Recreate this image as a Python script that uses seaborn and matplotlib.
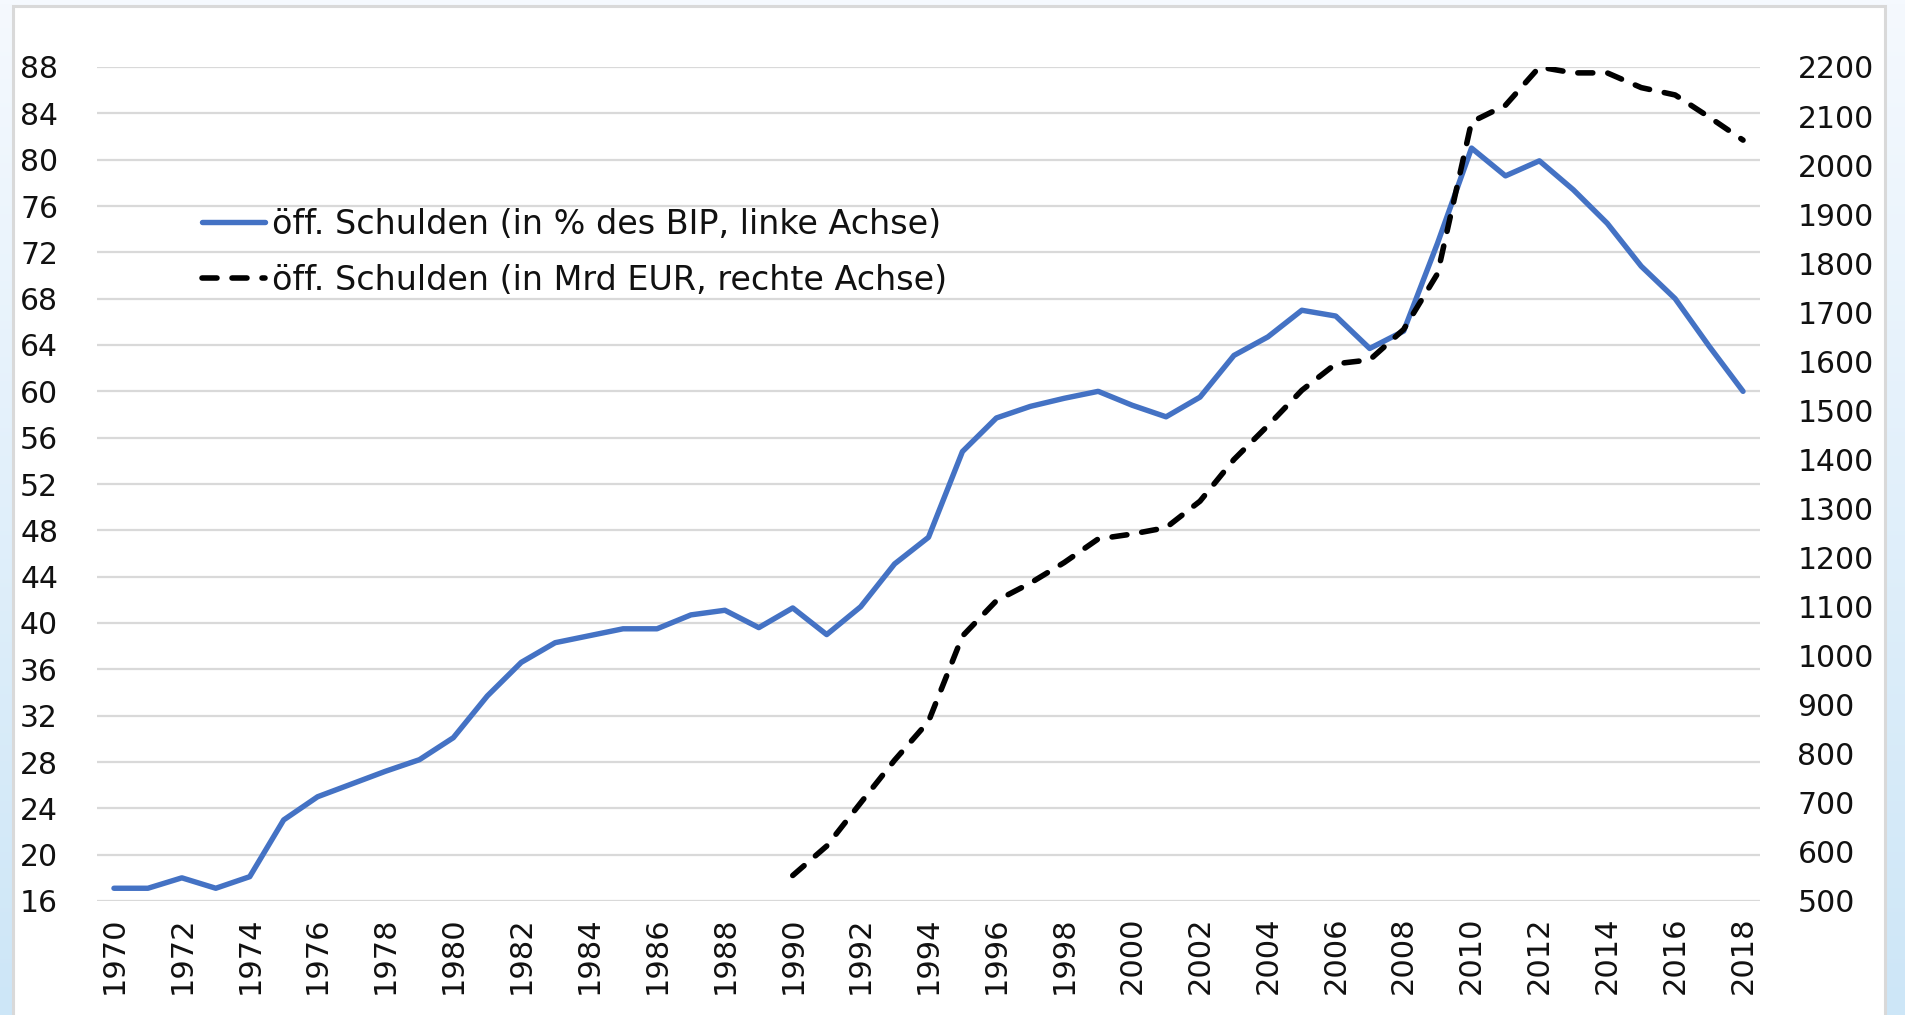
import numpy as np
import pandas as pd
import matplotlib
matplotlib.use("Agg")
import matplotlib.pyplot as plt
from matplotlib.patches import Rectangle
from matplotlib.colors import LinearSegmentedColormap
import seaborn as sns

# ---- data ----
years_pct = list(range(1970, 2019))
debt_pct = [17.1, 17.1, 18.0, 17.1, 18.1, 23.0, 25.0, 26.1, 27.2, 28.2,
            30.1, 33.7, 36.6, 38.3, 38.9, 39.5, 39.5, 40.7, 41.1, 39.6,
            41.3, 39.0, 41.4, 45.1, 47.4, 54.8, 57.7, 58.7, 59.4, 60.0,
            58.8, 57.8, 59.5, 63.1, 64.7, 67.0, 66.5, 63.7, 65.2, 72.8,
            81.0, 78.6, 79.9, 77.4, 74.5, 70.8, 68.0, 63.9, 60.0]
years_eur = list(range(1990, 2019))
debt_eur = [552, 612, 700, 787, 866, 1040, 1112, 1148, 1190, 1238,
            1248, 1261, 1315, 1400, 1469, 1541, 1595, 1603, 1665, 1779,
            2088, 2122, 2200, 2188, 2188, 2158, 2143, 2098, 2051]
label_pct = "öff. Schulden (in % des BIP, linke Achse)"
label_eur = "öff. Schulden (in Mrd EUR, rechte Achse)"
left_ticks = list(range(16, 89, 4))
right_ticks = list(range(500, 2201, 100))
x_ticks = list(range(1970, 2019, 2))

df_pct = pd.DataFrame({"Jahr": years_pct, "Wert": debt_pct})
df_eur = pd.DataFrame({"Jahr": years_eur, "Wert": debt_eur})

sns.set_style("white")
plt.rcParams["font.family"] = ["DejaVu Sans"]

W, H = 1906, 1015
fig = plt.figure(figsize=(W / 100, H / 100), dpi=100)

# background gradient + white panel
bg = fig.add_axes([0, 0, 1, 1])
cmap = LinearSegmentedColormap.from_list("bg", ["#f5f9fe", "#cde6f7"])
bg.imshow(np.linspace(0, 1, 256).reshape(-1, 1), aspect="auto", cmap=cmap,
          extent=[0, 1, 0, 1], origin="upper")
bg.add_patch(Rectangle((13 / W, -0.01), (1885 - 13) / W, 1.01 - 6 / H,
                       transform=bg.transAxes, facecolor="white",
                       edgecolor="#d9d9d9", linewidth=2.2, zorder=5))
bg.set_xlim(0, 1)
bg.set_ylim(0, 1)
bg.set_axis_off()

ax = fig.add_axes([97 / W, 1 - 901 / H, (1760 - 97) / W, (901 - 67) / H])
ax.set_facecolor("none")
ax2 = ax.twinx()

sns.lineplot(data=df_pct, x="Jahr", y="Wert", ax=ax, color="#4472C4",
             linewidth=3.9, label=label_pct, legend=False)
sns.lineplot(data=df_eur, x="Jahr", y="Wert", ax=ax2, color="black",
             linewidth=4.0, label=label_eur, legend=False,
             linestyle=(0, (2.7, 2.7)))
for ln in ax2.get_lines():
    ln.set_dash_capstyle("round")
for ln in ax.get_lines():
    ln.set_solid_capstyle("round")
    ln.set_solid_joinstyle("round")

ax.set_xlim(1969.5, 2018.5)
ax.set_ylim(16, 88)
ax2.set_ylim(500, 2200)
ax.set_yticks(left_ticks)
ax.set_yticklabels([str(v) for v in left_ticks])
ax2.set_yticks(right_ticks)
ax2.set_yticklabels([str(v) for v in right_ticks])
ax.set_xticks(x_ticks)
ax.set_xticklabels([str(v) for v in x_ticks], rotation=90)
ax.set_xlabel("")
ax.set_ylabel("")
ax2.set_ylabel("")

fs = 21.5
ax.tick_params(axis="y", length=0, pad=28, labelsize=fs, labelcolor="#111111")
ax.tick_params(axis="x", length=0, pad=11, labelsize=22, labelcolor="#111111")
ax2.tick_params(axis="y", length=0, pad=27, labelsize=fs, labelcolor="#111111")

ax.yaxis.grid(True, color="#d9d9d9", linewidth=1.6)
ax.xaxis.grid(False)
ax2.grid(False)
for a in (ax, ax2):
    for s in a.spines.values():
        s.set_visible(False)

lfs = 24
h1, l1 = ax.get_legend_handles_labels()
h2, l2 = ax2.get_legend_handles_labels()
leg = ax2.legend(h1 + h2, l1 + l2, loc="upper left",
                 bbox_to_anchor=(202 / W, 1 - 208 / H), bbox_transform=fig.transFigure,
                 frameon=False, fontsize=lfs, handlelength=1.9, handletextpad=0.2,
                 labelspacing=0.68, borderpad=0, borderaxespad=0)
for t in leg.get_texts():
    t.set_color("#111111")

fig.savefig("out.png", dpi=100)
